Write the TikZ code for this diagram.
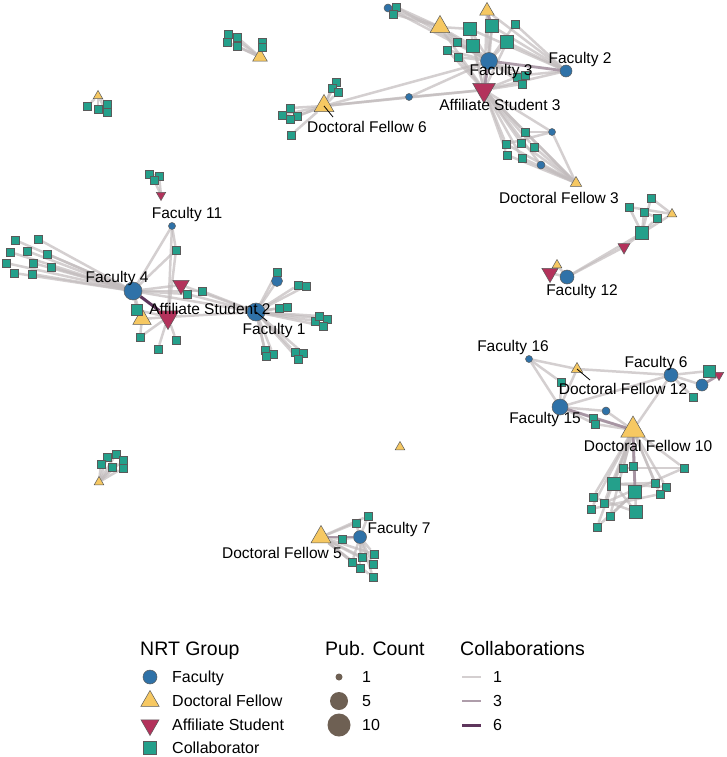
\documentclass[tikz,border=0pt]{standalone}
\usepackage{fontspec}
\setmainfont{Liberation Sans}
\usepackage{tikz}
\usetikzlibrary{shapes.geometric,backgrounds}
\definecolor{facblue}{HTML}{2F72A8}
\definecolor{felyellow}{HTML}{F6C862}
\definecolor{affred}{HTML}{B3325B}
\definecolor{colteal}{HTML}{24A08B}
\definecolor{nodeline}{HTML}{5A5A5A}
\definecolor{linklight}{HTML}{C2BCBD}
\definecolor{linkmid}{HTML}{A08C9C}
\definecolor{linkdark}{HTML}{5E355C}
\definecolor{pubbrown}{HTML}{6E6053}

\begin{document}
\begin{tikzpicture}[x=1pt,y=-1pt,
  fac/.style={circle,fill=facblue,draw=nodeline,line width=0.5pt,inner sep=0pt,minimum size=#1},
  fel/.style={regular polygon,regular polygon sides=3,fill=felyellow,draw=nodeline,line width=0.5pt,inner sep=0pt,minimum size=#1},
  aff/.style={regular polygon,regular polygon sides=3,shape border rotate=180,fill=affred,draw=nodeline,line width=0.5pt,inner sep=0pt,minimum size=#1},
  collab/.style={rectangle,fill=colteal,draw=nodeline,line width=0.5pt,inner sep=0pt,minimum size=#1},
  lk1/.style={draw=linklight,line width=2.5pt,draw opacity=0.7},
  lk3/.style={draw=linkmid,line width=2.8pt,draw opacity=0.85},
  lk6/.style={draw=linkdark,line width=3pt},
  nlab/.style={font=\fontsize{15.5}{18}\selectfont,inner sep=0pt},
  ltitle/.style={font=\fontsize{19.5}{22}\selectfont,inner sep=0pt,anchor=base west},
  lentry/.style={font=\fontsize{16}{19}\selectfont,inner sep=0pt,anchor=base west}]

\useasboundingbox (0,0) rectangle (727,757);

\foreach \n/\x/\y/\s in {fac3/489/61/17,fac2/566/71/12,fsa/388/8/8,fsb/409/97/7,fsc/552/132/7,fsd/541/165/8,
    fac4/133/291/18,fac1/256/312/18,fac11/172/226/7,fsb1/277/281/11,
    fac16/529/359/7,fac15/560/407/16,fsc1/606/411/8,fac6/671/375/14,fsc2/702/385/12,
    fac12/567/277/14,fac7/360/537/13}
  \node[fac=\s] (\n) at (\x,\y) {};

\foreach \n/\x/\y/\s in {dfa/440/27/23,dfb/487/11/17,dfc6/324/106/23,dfd3/576/183/13,dfb4/142/319/21,
    dfe12/577/369/13,dfe10/633/430/28,dff/557/265/11,dfg/672/214/11,dfh/260/57/17,
    dfi/98/96/11,dfj/99/482/11,dfk/400/447/11,dfl5/321/537/23}
  \node[fel=\s] (\n) at (\x,\y) {};

\foreach \n/\x/\y/\s in {aff3/484/90/26,aff2/168/317/25,affb/181/285/19,affc/161/195/11,
    affd/719/375/11,affe/550/273/19,afff/624/247/14}
  \node[aff=\s] (\n) at (\x,\y) {};

\foreach \n/\x/\y/\s in {a1/396/7/8,a2/393/14/8,a3/470/29/13,a4/492/26/13,a5/515/24/8,a6/507/42/13,
    a7/473/46/13,a8/457/42/8,a9/447/50/8,a10/458/57/8,a11/517/77/8,a12/525/75/8,a13/522/84/8,
    a14/336/82/8,a15/332/88/8,a16/338/92/8,a17/290/108/8,a18/297/116/8,a19/290/119/8,
    a20/282/115/8,a21/291/135/8,a22/525/132/8,a23/506/144/8,a24/521/143/8,a25/534/147/8,
    a26/507/155/8,a27/522/158/8,
    b1/149/174/8,b2/159/176/8,b3/154/180/8,b4/15/240/8,b5/38/239/8,b6/10/252/8,b7/27/251/8,
    b8/47/254/8,b9/6/263/8,b10/33/263/8,b11/51/267/8,b12/14/273/8,b13/32/274/8,b14/176/250/8,
    b15/187/294/8,b16/202/291/8,b17/137/310/11,b18/140/337/8,b19/158/349/8,b20/176/340/8,
    b21/277/272/8,b22/298/285/8,b23/306/286/8,b24/279/308/8,b25/287/307/8,b26/315/321/8,
    b27/319/316/8,b28/327/319/8,b29/323/326/8,b30/265/350/8,b31/273/354/8,b32/266/356/8,
    b33/295/352/8,b34/303/353/8,b35/298/359/8,
    c1/561/382/8,c2/593/418/8,c3/595/424/8,c4/709/371/12,c5/693/397/8,c6/623/468/8,
    c7/633/466/8,c8/684/468/8,c9/614/484/13,c10/635/492/13,c11/655/483/8,c12/666/487/8,
    c13/660/494/8,c14/593/497/8,c15/604/503/8,c16/591/509/8,c17/610/516/8,c18/636/512/13,
    c19/597/527/8,
    d1/642/233/13,d2/651/198/8,d3/629/207/8,d4/644/212/8,d5/657/218/8,
    e1/228/34/8,e2/237/37/8,e3/227/42/8,e4/237/46/8,e5/262/42/8,e6/262/47/8,
    f1/87/106/8,f2/98/109/8,f3/107/104/8,f4/107/112/8,
    g1/107/457/8,g2/116/454/8,g3/123/460/8,g4/101/464/8,g5/112/467/8,g6/123/468/8,
    h1/368/516/8,h2/356/523/8,h3/342/539/8,h4/362/557/8,h5/374/554/8,h6/352/562/8,
    h7/373/564/8,h8/360/568/8,h9/373/577/8}
  \node[collab=\s] (\n) at (\x,\y) {};

\begin{pgfonlayer}{background}
\fill[white] (0,0) rectangle (727,757);
\foreach \a/\b in {fac3/a3,fac3/a4,fac3/a5,fac3/a6,fac3/a7,fac3/a8,fac3/a9,fac3/a10,fac3/a11,fac3/a12,
    fac3/a13,fac3/dfa,fac3/dfb,fac3/fsa,fac3/a1,fac3/fsb,fac3/dfc6,
    aff3/a3,aff3/a4,aff3/a6,aff3/a7,aff3/a9,aff3/a10,aff3/dfa,aff3/dfb,aff3/fac2,aff3/fsb,aff3/dfc6,
    aff3/a11,aff3/a13,aff3/a22,aff3/a23,aff3/a24,aff3/a25,aff3/a26,aff3/a27,aff3/fsc,aff3/fsd,aff3/dfd3,
    fac2/a4,fac2/a5,fac2/a6,fac2/a3,fac2/dfb,fac2/a12,
    dfa/a1,dfa/a2,dfa/fsa,dfa/a3,dfa/a7,dfa/a8,
    dfc6/a14,dfc6/a15,dfc6/a16,dfc6/a17,dfc6/a18,dfc6/a19,dfc6/a20,dfc6/a21,dfc6/fsb,
    dfd3/fsc,dfd3/fsd,dfd3/a22,dfd3/a23,dfd3/a24,dfd3/a25,dfd3/a26,dfd3/a27,fsc/a22,fsc/a23,
    fac4/b4,fac4/b5,fac4/b6,fac4/b7,fac4/b8,fac4/b9,fac4/b10,fac4/b11,fac4/b12,fac4/b13,
    fac4/fac1,fac4/affb,fac4/b15,fac4/b16,fac4/b17,fac4/dfb4,fac4/fac11,fac4/b14,
    fac1/fsb1,fac1/b21,fac1/b22,fac1/b23,fac1/b24,fac1/b25,fac1/b26,fac1/b27,fac1/b28,fac1/b29,
    fac1/b30,fac1/b31,fac1/b32,fac1/b33,fac1/b34,fac1/b35,fac1/aff2,fac1/affb,fac1/b15,fac1/b16,
    fac11/b14,fac11/aff2,aff2/b18,aff2/b19,aff2/b20,aff2/b17,aff2/dfb4,aff2/b14,dfb4/b18,
    b1/b2,b1/b3,b3/affc,b2/affc,
    fac16/dfe12,fac16/fac15,fac16/c1,fac15/dfe12,fac15/c1,fac15/fsc1,fac15/c2,fac15/c3,fac15/fac6,
    dfe10/fac6,dfe10/fsc1,dfe10/c2,dfe10/c3,dfe10/c6,dfe10/c7,dfe10/c8,dfe10/c9,dfe10/c11,
    dfe10/c12,dfe10/c13,dfe10/c14,dfe10/c15,dfe10/c16,dfe10/c17,dfe10/c18,dfe10/c19,
    fac6/c4,fac6/fsc2,fac6/c5,fac6/dfe12,c4/affd,c9/c18,c9/c11,c14/c18,c16/c13,c15/c8,
    c17/c10,c19/c10,c6/c8,c9/c12,
    fac12/afff,afff/d1,fac12/d1,d1/d2,d1/d3,d1/d4,d1/d5,d1/dfg,d3/dfg,d2/dfg,d4/d5,
    affe/fac12,dff/fac12,
    dfh/e1,dfh/e2,dfh/e3,dfh/e4,dfh/e5,dfh/e6,
    dfi/f1,dfi/f2,dfi/f3,dfi/f4,
    dfj/g1,dfj/g2,dfj/g3,dfj/g4,dfj/g5,dfj/g6,
    dfl5/h1,dfl5/h2,dfl5/h3,dfl5/h4,dfl5/h5,dfl5/h6,dfl5/h7,dfl5/h8,dfl5/h9,
    fac7/h1,fac7/h2,fac7/h3,fac7/h4,fac7/h5,fac7/h6,fac7/h7,fac7/h8,fac7/h9}
  \draw[lk1] (\a) -- (\b);
\foreach \a/\b in {fac3/fac2,fac3/aff3,dfb/a4,fac15/dfe10,dfe10/c10,fsc2/affd,dfl5/fac7}
  \draw[lk3] (\a) -- (\b);
\draw[lk6] (fac4) -- (aff2);
\end{pgfonlayer}

\coordinate (sdf6) at (333,117);
\coordinate (sdf12) at (590,380);
\coordinate (sfac1) at (267,321);
\draw[black,line width=0.8pt] (dfc6.center) -- (sdf6);
\draw[black,line width=0.8pt] (dfe12.center) -- (sdf12);
\draw[black,line width=0.8pt] (fac1.center) -- (sfac1);

\node[nlab] (lfac3) at (501,71) {Faculty 3};
\node[nlab] (lfac2) at (580,59) {Faculty 2};
\node[nlab] (laff3) at (500,105) {Affiliate Student 3};
\node[nlab] (ldf6) at (367,127) {Doctoral Fellow 6};
\node[nlab] (ldf3) at (559,198) {Doctoral Fellow 3};
\node[nlab] (lfac12) at (582,291) {Faculty 12};
\node[nlab] (lfac11) at (187,214) {Faculty 11};
\node[nlab] (lfac4) at (117,278) {Faculty 4};
\node[nlab] (laff2) at (210,309) {Affiliate Student 2};
\node[nlab] (lfac1) at (274,330) {Faculty 1};
\node[nlab] (lfac16) at (513,347) {Faculty 16};
\node[nlab] (ldf12) at (623,389) {Doctoral Fellow 12};
\node[nlab] (lfac6) at (656,363) {Faculty 6};
\node[nlab] (lfac15) at (545,419) {Faculty 15};
\node[nlab] (ldf10) at (648,446) {Doctoral Fellow 10};
\node[nlab] (ldf5) at (282,553) {Doctoral Fellow 5};
\node[nlab] (lfac7) at (399,529) {Faculty 7};

\node[ltitle] (tgroup) at (140,655) {NRT Group};
\node[fac=14] (kfac) at (150,677) {};
\node[fel=21] (kfel) at (150,701) {};
\node[aff=21] (kaff) at (150,725) {};
\node[collab=13] (kcol) at (150,748) {};
\foreach \t/\y [count=\i] in {Faculty/677,Doctoral Fellow/701,Affiliate Student/725,Collaborator/748}
  \node[lentry] (lg\i) at (172,\y+5.5) {\t};

\node[ltitle] (tpub) at (325,655) {Pub. Count};
\foreach \t/\y/\s [count=\i] in {1/677/7,5/701/18,10/725/23}{
  \node[circle,fill=pubbrown,inner sep=0pt,minimum size=\s] (kp\i) at (339,\y) {};
  \node[lentry] (lp\i) at (362,\y+5.5) {\t};
}

\node[ltitle] (tcol) at (460,655) {Collaborations};
\foreach \t/\y/\st [count=\i] in {1/677/lk1,3/701/lk3,6/725/lk6}{
  \coordinate (kla\i) at (462,\y);
  \coordinate (klb\i) at (481,\y);
  \draw[\st] (kla\i) -- (klb\i);
  \node[lentry] (lc\i) at (493,\y+5.5) {\t};
}

\end{tikzpicture}
\end{document}
